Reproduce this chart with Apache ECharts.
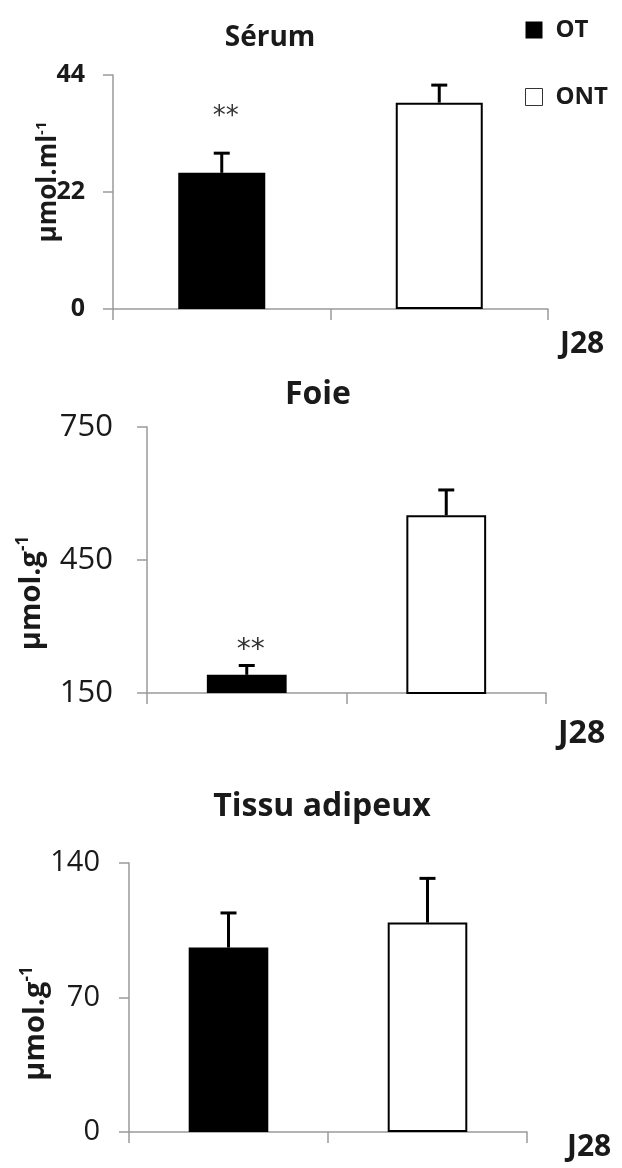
<!DOCTYPE html>
<html>
<head>
<meta charset="utf-8">
<script src="https://cdn.jsdelivr.net/npm/echarts@6/dist/echarts.min.js"></script>
<style>
html,body{margin:0;padding:0;background:#fff;}
#c{width:622px;height:1168px;}
</style>
</head>
<body>
<div id="c"></div>
<script>
// ---- data ----
const categories = ['OT', 'ONT'];
const xAxisName = 'J28';
const panelTitles = ['Sérum', 'Foie', 'Tissu adipeux'];
const unitMain = ['μmol.ml', 'μmol.g', 'μmol.g'];
const unitExp = '-1';

const serumMean = [25.6, 38.8];
const serumSD = [3.7, 3.3];
const serumSig = ['**', ''];
const serumTicks = [0, 22, 44];

const foieMean = [191, 551];
const foieSD = [21, 57];
const foieSig = ['**', ''];
const foieTicks = [150, 450, 750];

const tissuMean = [96, 109];
const tissuSD = [18, 23];
const tissuSig = ['', ''];
const tissuTicks = [0, 70, 140];

// ---- styles / layout ----
const FONT = '"Open Sans", "DejaVu Sans", sans-serif';
const TXT = '#1a1a1a';
const AX = '#9a9a9a';

const panels = [
  { title: panelTitles[0], unit: unitMain[0], mean: serumMean, sd: serumSD, sig: serumSig, ticks: serumTicks,
    grid: { left: 113, top: 75, width: 435, height: 234 },
    t: { x: 270, y: 38, size: 28 },
    yl: { size: 25, weight: 'bold', margin: 28 },
    yn: { size: 26, exp: 15, gap: 49, pad: [0, 0, 0, 20] },
    xn: { size: 30, gap: 12, va: 'top', pad: [20, 0, 0, 0] },
    sg: { gap: 36, size: 26 } },
  { title: panelTitles[1], unit: unitMain[1], mean: foieMean, sd: foieSD, sig: foieSig, ticks: foieTicks,
    grid: { left: 147, top: 427, width: 399, height: 266 },
    t: { x: 318, y: 395, size: 32 },
    yl: { size: 31, weight: 'normal', margin: 34 },
    yn: { size: 29, exp: 17, gap: 99, pad: [0, 66, 0, 0] },
    xn: { size: 32, gap: 12, va: 'top', pad: [25, 0, 0, 0] },
    sg: { gap: 15, size: 28 } },
  { title: panelTitles[2], unit: unitMain[2], mean: tissuMean, sd: tissuSD, sig: tissuSig, ticks: tissuTicks,
    grid: { left: 129, top: 863, width: 398, height: 269 },
    t: { x: 322, y: 807, size: 32 },
    yl: { size: 29, weight: 'normal', margin: 29 },
    yn: { size: 29, exp: 17, gap: 77, pad: [0, 52, 0, 0] },
    xn: { size: 30, gap: 40, va: 'top', pad: [0, 0, 0, 0] },
    sg: { gap: 20, size: 22 } }
];

const grids = [], xAxes = [], yAxes = [], titles = [], series = [];

panels.forEach((p, i) => {
  grids.push(Object.assign({ outerBoundsMode: 'none', containLabel: false }, p.grid));
  titles.push({
    text: p.title, left: p.t.x, top: p.t.y, textAlign: 'center', textVerticalAlign: 'middle', padding: 0,
    textStyle: { fontSize: p.t.size, fontWeight: 'bold', fontFamily: FONT, color: TXT }
  });
  xAxes.push({
    gridIndex: i, type: 'category', data: categories,
    axisLabel: { show: false },
    axisTick: { show: true, length: 11, alignWithLabel: false, lineStyle: { color: AX, width: 1.5 } },
    axisLine: { show: true, lineStyle: { color: AX, width: 1.5 } },
    splitLine: { show: false },
    name: xAxisName, nameLocation: 'end', nameGap: p.xn.gap, nameMoveOverlap: false,
    nameTextStyle: { fontSize: p.xn.size, fontWeight: 'bold', fontFamily: FONT, color: TXT,
      align: 'left', verticalAlign: p.xn.va, padding: p.xn.pad }
  });
  yAxes.push({
    gridIndex: i, type: 'value', min: p.ticks[0], max: p.ticks[p.ticks.length - 1],
    axisLabel: { customValues: p.ticks, fontSize: p.yl.size, fontWeight: p.yl.weight, fontFamily: FONT,
      color: TXT, margin: p.yl.margin },
    axisTick: { show: true, customValues: p.ticks, length: 10, lineStyle: { color: AX, width: 1.5 } },
    axisLine: { show: true, lineStyle: { color: AX, width: 1.5 } },
    splitLine: { show: false },
    name: '{a|' + p.unit + '}{b|' + unitExp + '}',
    nameLocation: 'middle', nameRotate: 90, nameGap: p.yn.gap, nameMoveOverlap: false,
    nameTextStyle: {
      padding: p.yn.pad,
      rich: {
        a: { fontSize: p.yn.size, fontWeight: 'bold', fontFamily: FONT, color: TXT, lineHeight: p.yn.size + 4 },
        b: { fontSize: p.yn.exp, fontWeight: 'bold', fontFamily: FONT, color: TXT, verticalAlign: 'top' }
      }
    }
  });
  series.push({
    name: categories[0], type: 'bar', xAxisIndex: i, yAxisIndex: i,
    data: [p.mean[0], '-'], barWidth: '40%', barGap: '-100%',
    itemStyle: { color: '#000' }
  });
  series.push({
    name: categories[1], type: 'bar', xAxisIndex: i, yAxisIndex: i,
    data: ['-', p.mean[1]], barWidth: '40%', barGap: '-100%',
    itemStyle: { color: '#fff', borderColor: '#000', borderWidth: 2 }
  });
  series.push({
    type: 'custom', xAxisIndex: i, yAxisIndex: i, clip: false, silent: true,
    encode: { x: 0, y: [1, 2] },
    data: p.mean.map((m, k) => [k, m, m + p.sd[k]]),
    renderItem: (params, api) => {
      const a = api.coord([api.value(0), api.value(1)]);
      const b = api.coord([api.value(0), api.value(2)]);
      const cap = 8;
      return { type: 'group', children: [
        { type: 'line', shape: { x1: a[0], y1: a[1], x2: b[0], y2: b[1] }, style: { stroke: '#000', lineWidth: 3 } },
        { type: 'line', shape: { x1: b[0] - cap, y1: b[1], x2: b[0] + cap, y2: b[1] }, style: { stroke: '#000', lineWidth: 3 } }
      ] };
    }
  });
  const sigIdx = p.sig.map((s, k) => s ? k : -1).filter(k => k >= 0);
  if (sigIdx.length) {
    series.push({
      type: 'custom', xAxisIndex: i, yAxisIndex: i, clip: false, silent: true,
      encode: { x: 0, y: 1 },
      data: sigIdx.map(k => [k, p.mean[k] + p.sd[k]]),
      renderItem: (params, api) => {
        const c = api.coord([api.value(0), api.value(1)]);
        return { type: 'text', x: c[0] + 4, y: c[1] - p.sg.gap,
          style: { text: p.sig[sigIdx[params.dataIndex]], fill: '#333', align: 'center', verticalAlign: 'middle',
            font: p.sg.size + 'px "DejaVu Sans", sans-serif' } };
      }
    });
  }
});

const chart = echarts.init(document.getElementById('c'), null, { renderer: 'canvas' });
chart.setOption({
  animation: false,
  backgroundColor: '#fff',
  title: titles,
  legend: {
    orient: 'vertical', left: 525, top: 18, padding: 0, itemWidth: 17, itemHeight: 17, itemGap: 43,
    icon: 'rect', selectedMode: false,
    textStyle: { fontSize: 24, fontWeight: 'bold', fontFamily: FONT, color: TXT, padding: [0, 0, 0, 8] },
    data: [
      { name: categories[0], itemStyle: { color: '#000' } },
      { name: categories[1], itemStyle: { color: '#fff', borderColor: '#333', borderWidth: 1 } }
    ]
  },
  grid: grids,
  xAxis: xAxes,
  yAxis: yAxes,
  series: series
});
</script>
</body>
</html>
